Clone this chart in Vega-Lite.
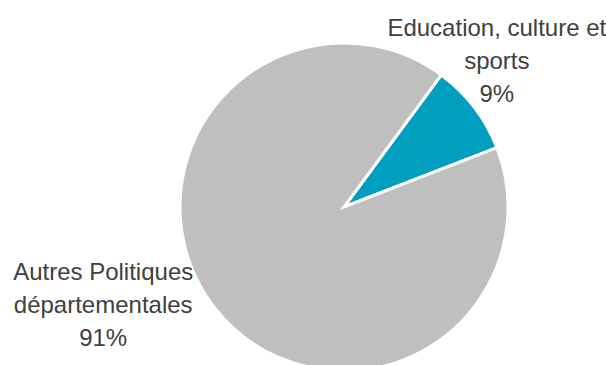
{
  "$schema": "https://vega.github.io/schema/vega-lite/v6.json",
  "width": 330,
  "height": 330,
  "autosize": "none",
  "padding": {"left": 179, "top": 42, "right": 97, "bottom": 0},
  "background": "white",
  "view": {"stroke": null},
  "data": {"values": [
    {"category": "Education, culture et sports", "label": "Education, culture et\nsports\n9%", "value": 9, "order": 1},
    {"category": "Autres Politiques départementales", "label": "Autres Politiques\ndépartementales\n91%", "value": 91, "order": 2}
  ]},
  "encoding": {
    "theta": {"field": "value", "type": "quantitative", "stack": true, "scale": {"range": [0.635, 6.918]}},
    "order": {"field": "order", "type": "quantitative"}
  },
  "layer": [
    {
      "mark": {"type": "arc", "outerRadius": 164, "stroke": "white", "strokeWidth": 3},
      "encoding": {
        "color": {"field": "category", "type": "nominal", "legend": null,
          "scale": {"domain": ["Education, culture et sports", "Autres Politiques départementales"], "range": ["#009FBF", "#BFBFBF"]}}
      }
    },
    {
      "mark": {"type": "text", "radius": 205, "dx": -10, "dy": -53, "lineBreak": "\n", "font": "Liberation Sans Narrow, Arial Narrow, Liberation Sans", "fontSize": 24, "lineHeight": 33, "fill": "#404040", "align": "center", "baseline": "middle"},
      "encoding": {"text": {"condition": {"test": "datum.order == 1", "field": "label"}, "value": ""}}
    },
    {
      "mark": {"type": "text", "radius": 205, "dx": -78, "dy": -59, "lineBreak": "\n", "font": "Liberation Sans Narrow, Arial Narrow, Liberation Sans", "fontSize": 24, "lineHeight": 33, "fill": "#404040", "align": "center", "baseline": "middle"},
      "encoding": {"text": {"condition": {"test": "datum.order == 2", "field": "label"}, "value": ""}}
    }
  ]
}
